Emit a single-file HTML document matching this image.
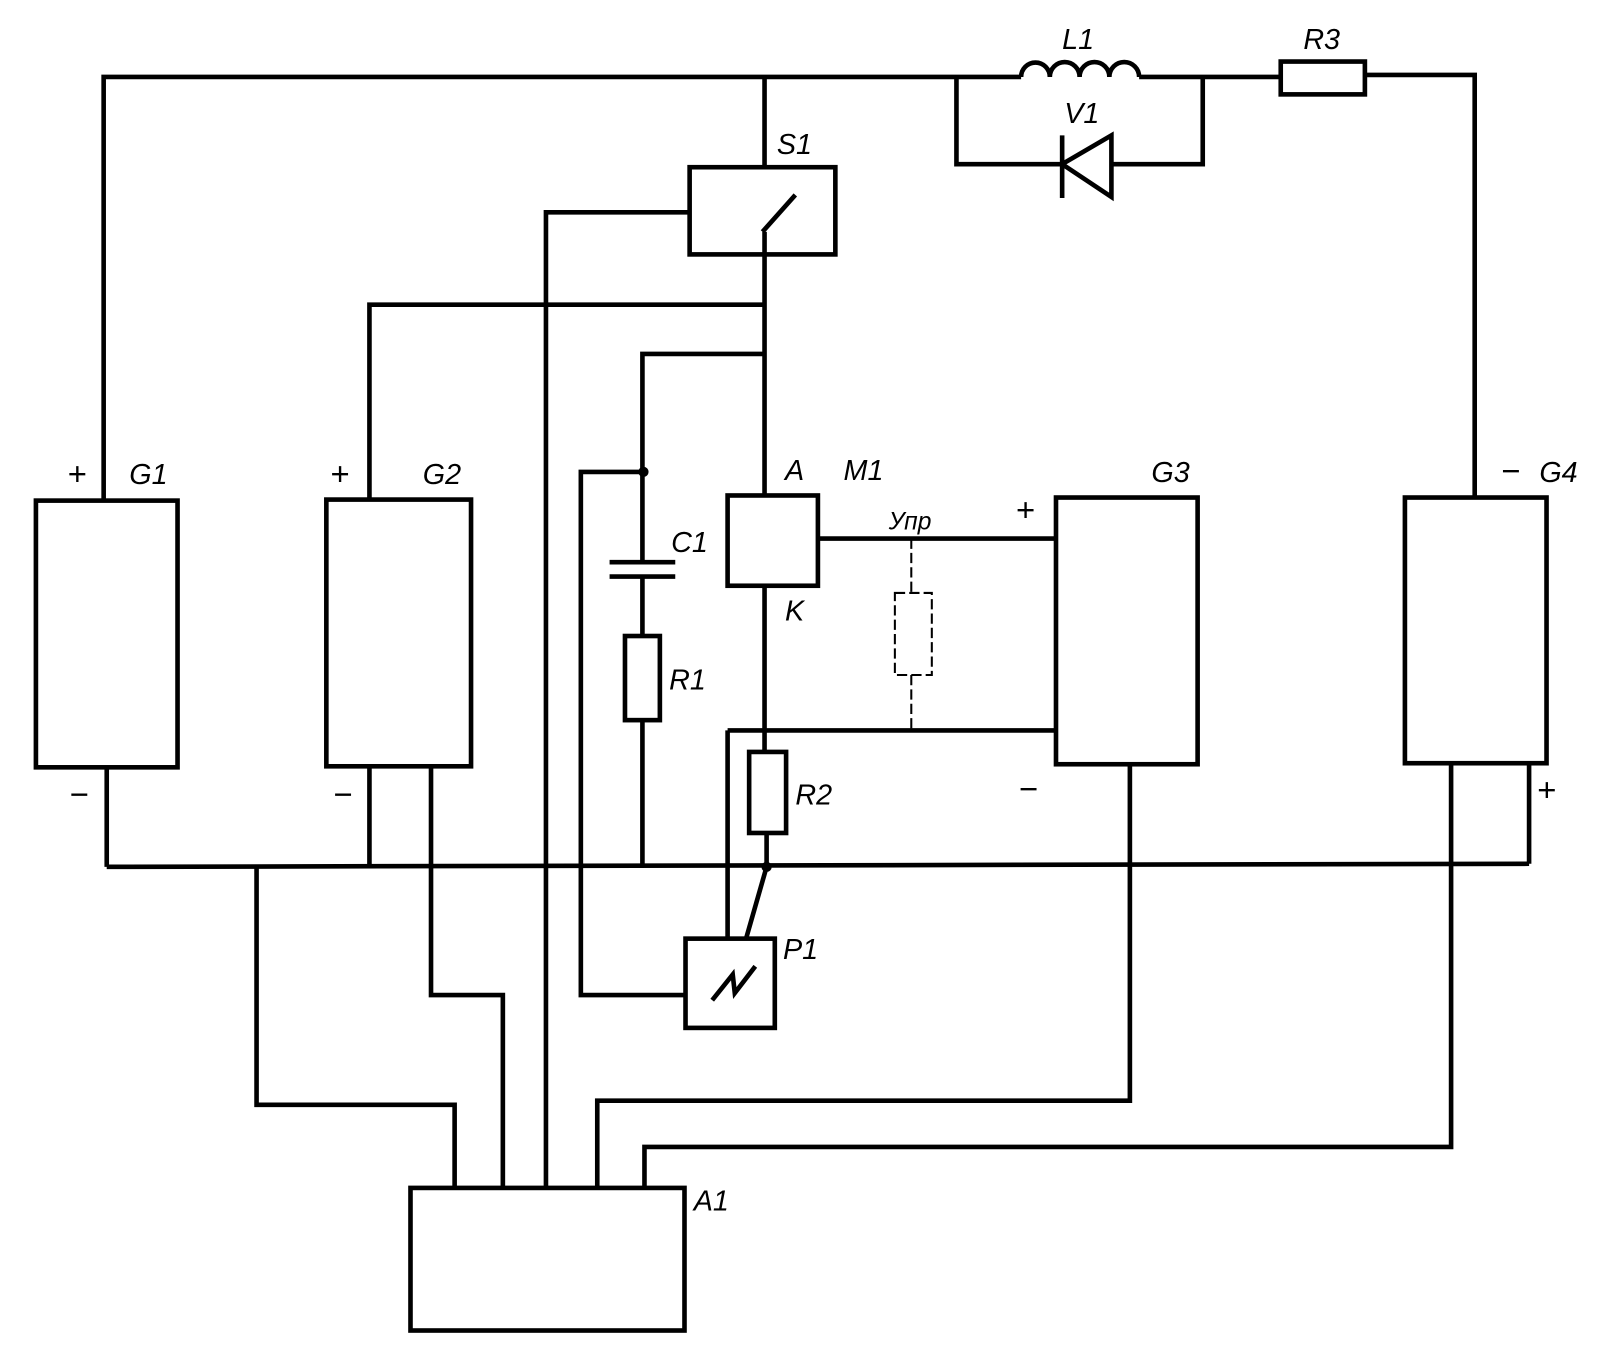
<!DOCTYPE html>
<html><head><meta charset="utf-8"><style>
html,body{margin:0;padding:0;background:#fff;}
svg{display:block;}
text{font-family:"Liberation Sans",sans-serif;font-style:italic;font-size:28px;fill:#000;}
.s{font-style:normal;font-size:32px;}
</style></head><body>
<svg width="1604" height="1350" viewBox="0 0 1563 1316" preserveAspectRatio="none" xmlns="http://www.w3.org/2000/svg">
<g fill="none" stroke="#000" stroke-width="4.5" stroke-linejoin="miter">
<polyline points="101,488 101,75 995,75"/>
<path d="M995,75 a14,14 0 0 1 28,0 a14,14 0 0 1 29,0 a14,14 0 0 1 29,0 a14,14 0 0 1 29,0"/>
<line x1="1110" y1="75" x2="1248" y2="75"/>
<rect x="1248" y="60" width="82" height="32"/>
<polyline points="1330,73 1437,73 1437,485"/>
<polyline points="932,75 932,160 1035,160"/>
<polyline points="1083,160 1172,160 1172,75"/>
<line x1="1035" y1="132" x2="1035" y2="193"/>
<polygon points="1035,160 1083,132 1083,192"/>
<line x1="745" y1="75" x2="745" y2="163"/>
<rect x="672" y="163" width="142" height="85"/>
<line x1="745" y1="248" x2="745" y2="226"/>
<line x1="743" y1="226" x2="775" y2="190"/>
<polyline points="672,207 532,207 532,1158"/>
<line x1="745" y1="248" x2="745" y2="483"/>
<polyline points="745,297 360,297 360,487"/>
<polyline points="745,345 626,345 626,548"/>
<line x1="594" y1="548" x2="658" y2="548"/>
<line x1="594" y1="562" x2="658" y2="562"/>
<line x1="626" y1="562" x2="626" y2="620"/>
<rect x="609" y="620" width="34" height="82"/>
<line x1="626" y1="702" x2="626" y2="845"/>
<polyline points="626,460 566,460 566,970 668,970"/>
<rect x="35" y="488" width="138" height="260"/>
<line x1="104" y1="748" x2="104" y2="845"/>
<rect x="318" y="487" width="141" height="260"/>
<line x1="360" y1="747" x2="360" y2="845"/>
<polyline points="420,747 420,970 490,970 490,1158"/>
<line x1="104" y1="845" x2="1490" y2="842"/>
<polyline points="250,845 250,1077 443,1077 443,1158"/>
<rect x="709" y="483" width="88" height="88"/>
<line x1="797" y1="525" x2="1029" y2="525"/>
<line x1="745" y1="571" x2="745" y2="733"/>
<rect x="730" y="733" width="36" height="79"/>
<line x1="747" y1="812" x2="747" y2="845"/>
<line x1="709" y1="712" x2="1029" y2="712"/>
<line x1="709" y1="712" x2="709" y2="915"/>
<line x1="747" y1="845" x2="727" y2="915"/>
<rect x="668" y="915" width="87" height="87"/>
<polyline points="694,975 714,950 716,968 736,942"/>
<rect x="1029" y="485" width="138" height="260"/>
<polyline points="1101,745 1101,1073 582,1073 582,1158"/>
<rect x="1369" y="485" width="138" height="259"/>
<polyline points="1414,744 1414,1118 628,1118 628,1158"/>
<line x1="1490" y1="744" x2="1490" y2="842"/>
<rect x="400" y="1158" width="267" height="139"/>
</g>
<g fill="none" stroke="#000" stroke-width="2" stroke-dasharray="10,4">
<line x1="888" y1="525" x2="888" y2="578"/>
<rect x="872" y="578" width="36" height="80"/>
<line x1="888" y1="658" x2="888" y2="712"/>
</g>
<circle cx="627" cy="460" r="5"/>
<circle cx="747" cy="845" r="5"/>
<text x="1035" y="48">L1</text>
<text x="1270" y="48">R3</text>
<text x="1037" y="120">V1</text>
<text x="757" y="150">S1</text>
<text class="s" x="66" y="473">+</text>
<text x="126" y="472">G1</text>
<text class="s" x="68" y="785">−</text>
<text class="s" x="322" y="473">+</text>
<text x="412" y="472">G2</text>
<text class="s" x="325" y="785">−</text>
<text x="765" y="468">A</text>
<text x="822" y="468">M1</text>
<text x="765" y="605">K</text>
<text x="866" y="516" style="font-size:24px">Упр</text>
<text x="654" y="538">C1</text>
<text x="652" y="672">R1</text>
<text x="775" y="784">R2</text>
<text x="763" y="935">P1</text>
<text class="s" x="990" y="508">+</text>
<text x="1122" y="470">G3</text>
<text class="s" x="993" y="780">−</text>
<text class="s" x="1463" y="470">−</text>
<text x="1500" y="470">G4</text>
<text class="s" x="1498" y="781">+</text>
<text x="676" y="1180">A1</text>
</svg>
</body></html>
